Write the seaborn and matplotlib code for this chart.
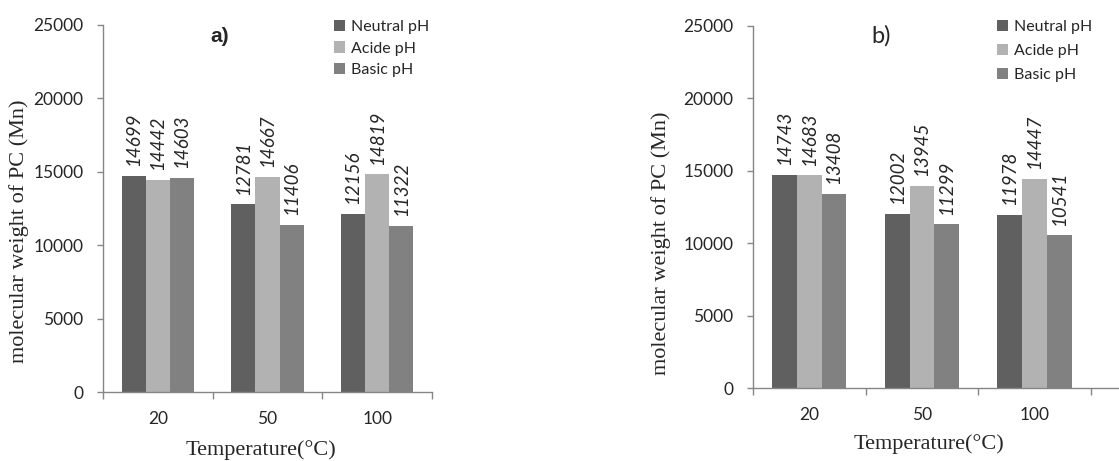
import numpy as np
import pandas as pd
import matplotlib
matplotlib.use("Agg")
import matplotlib.pyplot as plt
import seaborn as sns

temperatures = ["20", "50", "100"]
ph_conditions = ["Neutral pH", "Acide pH", "Basic pH"]

# panel a)
a_neutral = [14699, 12781, 12156]
a_acide = [14442, 14667, 14819]
a_basic = [14603, 11406, 11322]

# panel b)
b_neutral = [14743, 12002, 11978]
b_acide = [14683, 13945, 14447]
b_basic = [13408, 11299, 10541]

y_ticks = [0, 5000, 10000, 15000, 20000, 25000]

colors = ["#606060", "#b2b2b2", "#818181"]
spine_color = "#868686"
SANS = "Lato"
SERIF = "Liberation Serif"

sns.set_style("ticks")
plt.rcParams["font.family"] = [SANS, "DejaVu Sans"]

W, H = 1119, 461
fig = plt.figure(figsize=(W / 100, H / 100), dpi=100)


def px_axes(x0, x1, ytop, ybot):
    return fig.add_axes([x0 / W, 1 - ybot / H, (x1 - x0) / W, (ybot - ytop) / H])


def draw(ax, neutral, acide, basic, xmax, ylab_y, xlab_y, legend_xy, legend_gap):
    df = pd.DataFrame({
        "Temperature": temperatures * 3,
        "pH": np.repeat(ph_conditions, 3),
        "Mn": neutral + acide + basic,
    })
    sns.barplot(data=df, x="Temperature", y="Mn", hue="pH", order=temperatures,
                hue_order=ph_conditions, palette=colors, width=0.66, saturation=1,
                errorbar=None, linewidth=0, legend=False, ax=ax)
    for cont, vals in zip(ax.containers, [neutral, acide, basic]):
        ax.bar_label(cont, labels=[str(v) for v in vals], rotation=90, padding=7,
                     fontstyle="italic", fontsize=13.5)

    ax.set_ylim(0, 25000)
    ax.set_yticks(y_ticks)
    ax.set_xlim(-0.5, xmax)
    ax.set_xticks([-0.5, 0.5, 1.5, 2.5], minor=True)
    ax.tick_params(axis="x", which="major", length=0, pad=14, labelsize=12.5)
    ax.tick_params(axis="x", which="minor", length=5, width=1, color=spine_color, direction="out")
    ax.tick_params(axis="y", length=4, width=1, color=spine_color, pad=10, labelsize=12.5)
    for s in ["top", "right"]:
        ax.spines[s].set_visible(False)
    for s in ["left", "bottom"]:
        ax.spines[s].set_color(spine_color)
        ax.spines[s].set_linewidth(1)

    ax.set_ylabel("molecular weight of PC (Mn)", family=SERIF, fontsize=16)
    ax.set_xlabel("Temperature(°C)", family=SERIF, fontsize=16)
    ax.yaxis.set_label_coords(-0.224, ylab_y)
    ax.xaxis.set_label_coords(0.48, xlab_y)

    ax.legend(handles=list(ax.containers), labels=ph_conditions, loc="upper left",
              bbox_to_anchor=legend_xy, bbox_transform=fig.transFigure, frameon=False,
              fontsize=11.5, handlelength=0.7, handleheight=0.7, handletextpad=0.35,
              labelspacing=legend_gap, borderpad=0, borderaxespad=0)


ax1 = px_axes(103, 432, 25, 392)
draw(ax1, a_neutral, a_acide, a_basic, 2.5, 0.437, -0.132, (334 / W, 1 - 20 / H), 0.45)
fig.text(220 / W, 1 - 36 / H, "a)", ha="center", va="center", fontsize=15, fontweight="bold",
         family="Liberation Sans")

ax2 = px_axes(753, 1119, 26, 388)
draw(ax2, b_neutral, b_acide, b_basic, 2.75, 0.40, -0.127, (997 / W, 1 - 20 / H), 0.6)
fig.text(881 / W, 1 - 36 / H, "b)", ha="center", va="center", fontsize=17)

fig.savefig("out.png", dpi=100)
